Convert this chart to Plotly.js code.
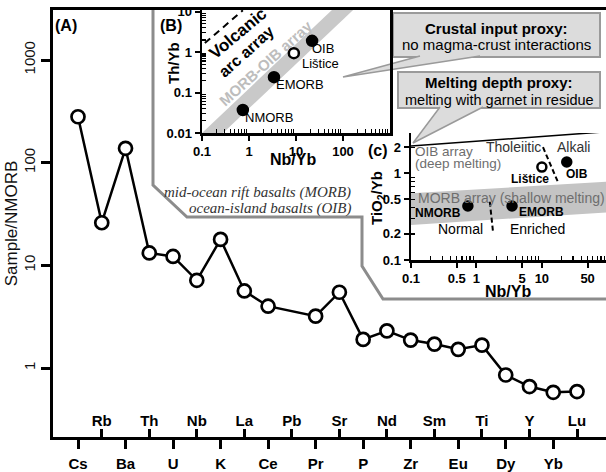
<!DOCTYPE html>
<html><head><meta charset="utf-8">
<script src="https://cdn.plot.ly/plotly-3.0.1.min.js"></script>
<style>html,body{margin:0;padding:0;background:#fff}#chart{width:606px;height:472px}</style>
</head><body><div id="chart"></div>
<script>
// ---- Data: main spider diagram (Sample / NMORB) ----
const elements = ['Cs','Rb','Ba','Th','U','Nb','K','La','Ce','Pb','Pr','Sr','P','Nd','Zr','Sm','Eu','Ti','Dy','Y','Yb','Lu'];
const sampleNMORB = [280, 26, 138, 13.2, 12.2, 7.15, 17.9, 5.63, 4.0, null, 3.2, 5.47, 1.9, 2.3, 1.87, 1.71, 1.52, 1.67, 0.855, 0.66, 0.58, 0.59];
const mainYTicks = [1, 10, 100, 1000];

// ---- Inset B: Th/Yb vs Nb/Yb ----
const samples = ['NMORB', 'EMORB', 'Lištice', 'OIB'];
const nbybB = [0.74, 3.4, 9.0, 22];
const thybB = [0.037, 0.24, 0.94, 1.9];
const bandB_x = [0.1, 0.28, 229, 81];
const bandB_y = [0.01, 0.01, 15.8, 15.8];
const arcB_x = [0.115, 0.74];
const arcB_y = [1.67, 10.8];

// ---- Inset C: TiO2/Yb vs Nb/Yb ----
const nbybC = [0.74, 3.5, 10, 24];
const tiybC = [0.42, 0.42, 1.18, 1.35];
const morbBand_x = [0.1, 100, 100, 0.1];
const morbBand_y = [0.59, 0.80, 0.355, 0.253];
const oibLine_x = [0.1, 100];
const oibLine_y = [2.07, 3.02];
const nEdiv_x = [1.6, 1.8];
const nEdiv_y = [0.47, 0.205];
const thAlk_x = [10.4, 17.5];
const thAlk_y = [2.0, 0.8];

const isOpen = samples.map(s => s === 'Lištice');
const fillCols = isOpen.map(o => o ? 'white' : 'black');

const W = 606, H = 472, ML = 53, MR = 0, MT = 10, MB = 35;
const PW = W - ML - MR, PH = H - MT - MB;
const px = x => (x - ML) / PW;
const py = y => (H - MB - y) / PH;

const SANS = 'Liberation Sans, Arial, sans-serif';
const SERIF = 'Liberation Serif, Times New Roman, serif';
const idx = elements.map((_, i) => i);
const evenIdx = idx.filter(i => i % 2 === 0), oddIdx = idx.filter(i => i % 2 === 1);

function minorVals(lo, hi) { const v = []; for (let e = lo; e < hi; e++) for (let k = 2; k <= 9; k++) v.push(k * Math.pow(10, e)); return v; }

const traces = [
  { x: idx, y: sampleNMORB, xaxis: 'x', yaxis: 'y', mode: 'lines+markers', connectgaps: true,
    line: { color: 'black', width: 2.5 },
    marker: { symbol: 'circle', size: 13, color: 'white', line: { color: 'black', width: 2.7 } },
    hoverinfo: 'skip', cliponaxis: false },
  { x: idx, y: sampleNMORB, xaxis: 'x4', yaxis: 'y', mode: 'markers', marker: { opacity: 0 }, hoverinfo: 'skip' },
  // inset B
  { x: bandB_x, y: bandB_y, xaxis: 'x2', yaxis: 'y2', mode: 'lines', fill: 'toself', fillcolor: '#c9c9c9', line: { width: 0 }, hoverinfo: 'skip' },
  { x: arcB_x, y: arcB_y, xaxis: 'x2', yaxis: 'y2', mode: 'lines', line: { color: 'black', width: 2, dash: '7px,5px' }, hoverinfo: 'skip' },
  { x: nbybB, y: thybB, xaxis: 'x2', yaxis: 'y2', mode: 'markers',
    marker: { size: 10, color: fillCols, line: { color: 'black', width: 2.5 } }, hoverinfo: 'skip' },
  // inset C
  { x: morbBand_x, y: morbBand_y, xaxis: 'x3', yaxis: 'y3', mode: 'lines', fill: 'toself', fillcolor: '#c4c4c4', line: { width: 0 }, hoverinfo: 'skip' },
  { x: oibLine_x, y: oibLine_y, xaxis: 'x3', yaxis: 'y3', mode: 'lines', line: { color: 'black', width: 1.5 }, hoverinfo: 'skip' },
  { x: nEdiv_x, y: nEdiv_y, xaxis: 'x3', yaxis: 'y3', mode: 'lines', line: { color: 'black', width: 2, dash: '5px,3px' }, hoverinfo: 'skip' },
  { x: thAlk_x, y: thAlk_y, xaxis: 'x3', yaxis: 'y3', mode: 'lines', line: { color: 'black', width: 2, dash: '5px,3px' }, hoverinfo: 'skip' },
  { x: nbybC, y: tiybC, xaxis: 'x3', yaxis: 'y3', mode: 'markers',
    marker: { size: 9, color: fillCols, line: { color: 'black', width: 2.5 } }, hoverinfo: 'skip' }
];

const bold = (size) => ({ family: SANS, size: size, color: 'black', weight: 'bold' });
const logAxisCommon = {
  type: 'log', showline: true, linecolor: 'black', linewidth: 2.5, ticks: 'outside', ticklen: 5, tickwidth: 2,
  tickcolor: 'black', showgrid: false, zeroline: false, tickfont: bold(13), tickmode: 'array', fixedrange: true
};

const A = (text, x, y, o = {}) => Object.assign({
  text: text, x: px(x), y: py(y), xref: 'paper', yref: 'paper', showarrow: false,
  xanchor: 'center', yanchor: 'middle', font: { family: SANS, size: 14, color: 'black' }
}, o);

const annotations = [
  A('(A)', 66, 25, { font: bold(16) }),
  A('(B)', 171, 25, { font: bold(16) }),
  A('Th/Yb', 173, 63, { font: bold(15), textangle: -90 }),
  A('Nb/Yb', 293, 159, { font: bold(16) }),
  A('Volcanic', 238, 34, { font: bold(17), textangle: -40 }),
  A('arc array', 246, 51, { font: bold(16), textangle: -42 }),
  A('MORB-OIB array', 265, 63, { font: { family: SANS, size: 15, color: '#bdbdbd', weight: 'bold' }, textangle: -42 }),
  A('OIB', 323, 49, { font: { family: SANS, size: 13, color: 'black' } }),
  A('Lištice', 320, 63, { font: { family: SANS, size: 13, color: 'black' } }),
  A('EMORB', 300, 85, { font: { family: SANS, size: 13, color: 'black' } }),
  A('NMORB', 269, 118, { font: { family: SANS, size: 13, color: 'black' } }),
  A('<i>mid-ocean rift basalts (MORB)</i>', 353, 192, { xanchor: 'right', font: { family: SERIF, size: 15, color: '#333' } }),
  A('<i>ocean-island basalts (OIB)</i>', 353, 209, { xanchor: 'right', font: { family: SERIF, size: 15, color: '#333' } }),
  A('Crustal input proxy:', 496, 28, { font: bold(15) }),
  A('no magma-crust interactions', 496, 45, { font: { family: SANS, size: 15, color: 'black' } }),
  A('Melting depth proxy:', 499, 83, { font: bold(15) }),
  A('melting with garnet in residue', 499, 100, { font: { family: SANS, size: 14.5, color: 'black' } }),
  A('(c)', 378, 150, { font: bold(16) }),
  A('OIB array', 413, 151, { xanchor: 'left', font: { family: SANS, size: 13.5, color: '#6e6e6e' } }),
  A('(deep melting)', 413, 164, { xanchor: 'left', font: { family: SANS, size: 13.5, color: '#6e6e6e' } }),
  A('Tholeiitic', 513, 147, { font: { family: SANS, size: 14, color: '#333' } }),
  A('Alkali', 573, 147, { font: { family: SANS, size: 14, color: '#333' } }),
  A('Lištice', 530, 179, { font: bold(12) }),
  A('OIB', 577, 174, { font: bold(12) }),
  A('MORB array (shallow melting)', 511, 198, { font: { family: SANS, size: 14, color: '#6e6e6e' } }),
  A('NMORB', 438, 213, { font: bold(12) }),
  A('EMORB', 541, 212, { font: bold(12) }),
  A('Normal', 460, 229, { font: { family: SANS, size: 14, color: 'black' } }),
  A('Enriched', 537, 229, { font: { family: SANS, size: 14, color: 'black' } }),
  A('TiO<sub>2</sub>/Yb', 377, 198, { font: bold(15), textangle: -90 }),
  A('Nb/Yb', 508, 291, { font: bold(16) })
];

const P = (x, y) => px(x) + ',' + py(y);
const shapes = [
  { type: 'path', xref: 'paper', yref: 'paper', layer: 'below',
    path: 'M' + P(153, 10) + ' L' + P(153, 185) + ' L' + P(187, 217) + ' L' + P(362, 217) + ' L' + P(362, 266) + ' L' + P(383, 299) + ' L' + P(606, 299),
    line: { color: '#8c8c8c', width: 3 } },
  { type: 'rect', xref: 'paper', yref: 'paper', layer: 'below', x0: px(393), x1: px(600), y0: py(57), y1: py(13),
    fillcolor: '#dcdcdc', line: { color: '#9a9a9a', width: 2 } },
  { type: 'path', xref: 'paper', yref: 'paper', layer: 'below',
    path: 'M' + P(420, 56) + ' L' + P(343, 77) + ' L' + P(480, 56), fillcolor: '#dcdcdc', line: { color: '#9a9a9a', width: 1.5 } },
  { type: 'rect', xref: 'paper', yref: 'paper', layer: 'below', x0: px(398), x1: px(600), y0: py(108), y1: py(72),
    fillcolor: '#dcdcdc', line: { color: '#9a9a9a', width: 2 } },
  { type: 'path', xref: 'paper', yref: 'paper', layer: 'below',
    path: 'M' + P(440, 107) + ' L' + P(413, 143) + ' L' + P(483, 107), fillcolor: '#dcdcdc', line: { color: '#9a9a9a', width: 1.5 } }
];

const xr = [-1.052, 22.22];
const layout = {
  width: W, height: H, margin: { l: ML, r: MR, t: MT, b: MB, pad: 0 },
  paper_bgcolor: 'white', plot_bgcolor: 'rgba(0,0,0,0)', showlegend: false,
  font: { family: SANS, color: 'black' },
  xaxis: { domain: [0, 1], anchor: 'y', range: xr, tickmode: 'array', tickvals: evenIdx, ticktext: evenIdx.map(i => elements[i]),
    ticks: 'outside', ticklen: 9, tickwidth: 3, tickcolor: 'black', showline: true, linewidth: 3, linecolor: 'black', mirror: true,
    showgrid: false, zeroline: false, tickfont: bold(15), ticklabelstandoff: 2, fixedrange: true },
  xaxis4: { overlaying: 'x', anchor: 'y', side: 'bottom', range: xr, tickmode: 'array', tickvals: oddIdx, ticktext: oddIdx.map(i => elements[i]),
    ticks: 'inside', ticklen: 8, tickwidth: 3, tickcolor: 'black', ticklabelposition: 'inside', showline: false,
    showgrid: false, zeroline: false, tickfont: bold(15), fixedrange: true },
  yaxis: { domain: [0, 1], anchor: 'x', type: 'log', range: [-0.672, 3.487], tickmode: 'array', tickvals: mainYTicks, ticktext: mainYTicks.map(String),
    ticks: 'outside', ticklen: 9, tickwidth: 3, tickcolor: 'black', tickangle: -90, showline: true, linewidth: 3, linecolor: 'black',
    showgrid: false, zeroline: false, tickfont: { family: SANS, size: 15, color: '#111' },
    title: { text: 'Sample/NMORB', font: { family: SANS, size: 17, color: '#111' }, standoff: 0 }, fixedrange: true },
  xaxis2: Object.assign({}, logAxisCommon, { domain: [px(202), px(390)], anchor: 'y2', range: [-1, 3],
    tickvals: [0.1, 1, 10, 100], ticktext: ['0.1', '1', '10', '100'],
    minor: { tickmode: 'array', tickvals: minorVals(-1, 3), ticks: 'inside', ticklen: 4, tickwidth: 1.2, tickcolor: 'black', showgrid: false } }),
  yaxis2: Object.assign({}, logAxisCommon, { domain: [py(133), 1], anchor: 'x2', range: [-2, 1.04], mirror: true,
    tickvals: [0.01, 0.1, 1, 10], ticktext: ['0.01', '0.1', '1', '10'],
    minor: { tickmode: 'array', tickvals: minorVals(-2, 1), ticks: 'inside', ticklen: 4, tickwidth: 1.2, tickcolor: 'black', showgrid: false } }),
  xaxis3: Object.assign({}, logAxisCommon, { domain: [px(411), 1], anchor: 'y3', range: [-1, 1.98],
    tickvals: [0.1, 0.5, 1, 5, 10, 50], ticktext: ['0.1', '0.5', '1', '5', '10', '50'],
    minor: { tickmode: 'array', tickvals: minorVals(-1, 2), ticks: 'inside', ticklen: 4, tickwidth: 1.2, tickcolor: 'black', showgrid: false } }),
  yaxis3: Object.assign({}, logAxisCommon, { domain: [py(260), py(133)], anchor: 'x3', range: [-1, 0.465],
    tickvals: [0.1, 0.2, 0.5, 1, 2], ticktext: ['0.1', '0.2', '0.5', '1', '2'],
    minor: { tickmode: 'array', tickvals: minorVals(-1, 1), ticks: 'inside', ticklen: 4, tickwidth: 1.2, tickcolor: 'black', showgrid: false } }),
  annotations: annotations,
  shapes: shapes
};

Plotly.newPlot('chart', traces, layout, { displayModeBar: false, staticPlot: true });
</script>
</body></html>
